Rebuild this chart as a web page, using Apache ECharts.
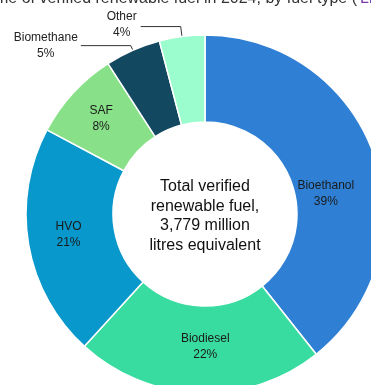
<!DOCTYPE html>
<html><head><meta charset="utf-8">
<script src="https://cdn.jsdelivr.net/npm/echarts@6/dist/echarts.min.js"></script>
<style>html,body{margin:0;padding:0;background:#fff}#c{width:371px;height:385px}</style>
</head><body><div id="c"></div>
<script>
const categories = ["Bioethanol", "Biodiesel", "HVO", "SAF", "Biomethane", "Other"];
const volumes = [1485, 847, 794, 306, 189, 155]; // million litres equivalent
const colors = ["#2F80D4", "#38DBA0", "#0898CC", "#88E088", "#124860", "#9BFCCD"];
const centerLines = ["Total verified", "renewable fuel,", "3,779 million", "litres equivalent"];
const titleText = "Volume of verified renewable fuel in 2024, by fuel type (";
const outsideIdx = [4, 5];
const labelShift = [[-10, 25], [5, -6], [0, -3], [-2, -2], [2, 0], [3, -2]];

const total = volumes.reduce((a, b) => a + b, 0);
const chart = echarts.init(document.getElementById('c'));
const data = categories.map((n, i) => {
  const item = { name: n, value: volumes[i], itemStyle: { color: colors[i] } };
  if (outsideIdx.includes(i)) {
    item.label = {
      position: 'outside',
      formatter: p => '{a|' + p.name + '}\n{a|' + Math.round(p.value / total * 100) + '%}',
      rich: { a: { width: i === 4 ? 70 : 40, align: 'center', fontSize: 12, lineHeight: 16, color: '#222', fontFamily: 'Liberation Sans, Arial' } },
      distanceToLabelLine: 2
    };
    item.labelLine = { show: true, length: i === 4 ? 5 : 10, length2: i === 4 ? 50 : 40, lineStyle: { color: '#333', width: 1 } };
  }
  return item;
});

chart.setOption({
  animation: false,
  graphic: [
    { type: 'text', z: 10, x: 205, y: 216,
      style: { text: centerLines.join('\n'), align: 'center', verticalAlign: 'middle', font: '16px "Liberation Sans", Arial', fill: '#111', lineHeight: 19.5 } },
    { type: 'text', z: 10, x: 357, y: 7,
      style: { text: titleText, align: 'right', verticalAlign: 'bottom', font: '16px "Liberation Sans", Arial', fill: '#333' } },
    { type: 'text', z: 10, x: 360, y: 7,
      style: { text: 'Litres)', align: 'left', verticalAlign: 'bottom', font: '16px "Liberation Sans", Arial', fill: '#7a3aa8' } }
  ],
  series: [{
    type: 'pie',
    center: [205, 214],
    radius: [92, 179],
    startAngle: 90,
    clockwise: true,
    avoidLabelOverlap: false,
    itemStyle: { borderColor: '#fff', borderWidth: 1.5 },
    label: {
      position: 'inside',
      formatter: p => p.name + '\n' + Math.round(p.value / total * 100) + '%',
      fontSize: 12, lineHeight: 16, color: '#1a1a1a', fontFamily: 'Liberation Sans, Arial'
    },
    labelLayout: p => ({ dx: labelShift[p.dataIndex][0], dy: labelShift[p.dataIndex][1] }),
    labelLine: { show: false },
    emphasis: { disabled: true },
    data: data
  }]
});
</script></body></html>
